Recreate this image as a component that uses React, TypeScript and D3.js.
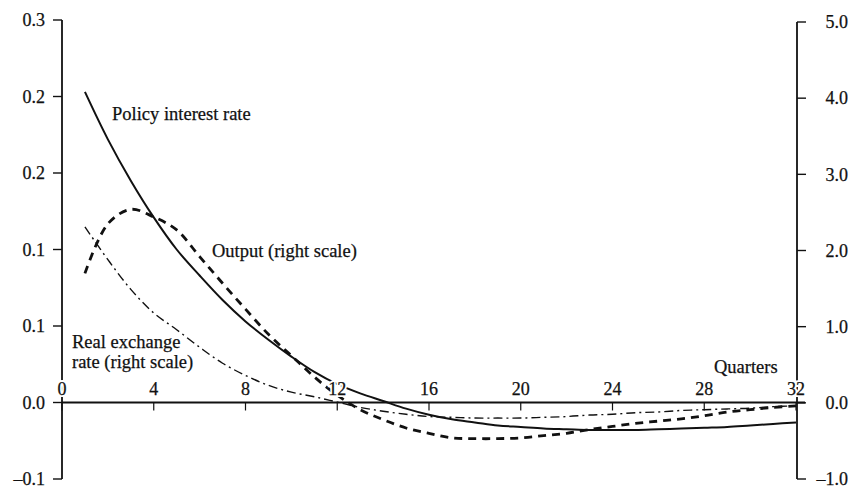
import React from "react";
import * as d3 from "d3";

const quarters = [1,2,3,4,5,6,7,8,9,10,11,12,13,14,15,16,17,18,19,20,21,22,23,24,25,26,27,28,29,30,31,32];

// Policy interest rate (left scale)
const policyRate = [0.203,0.172,0.145,0.121,0.100,0.083,0.067,0.053,0.041,0.030,0.020,0.012,0.006,0.001,-0.004,-0.008,-0.011,-0.013,-0.015,-0.016,-0.017,-0.0175,-0.018,-0.018,-0.018,-0.0175,-0.017,-0.0165,-0.016,-0.015,-0.014,-0.013];

// Output (right scale)
const output = [1.70,2.35,2.54,2.44,2.27,1.92,1.57,1.23,0.90,0.62,0.34,0.10,-0.09,-0.22,-0.33,-0.40,-0.46,-0.47,-0.47,-0.46,-0.43,-0.40,-0.35,-0.31,-0.27,-0.24,-0.21,-0.17,-0.12,-0.09,-0.06,-0.04];

// Real exchange rate (right scale)
const realExchangeRate = [2.31,1.88,1.49,1.18,0.96,0.73,0.52,0.36,0.23,0.14,0.08,0.01,-0.06,-0.11,-0.15,-0.18,-0.19,-0.20,-0.20,-0.20,-0.19,-0.18,-0.16,-0.15,-0.13,-0.12,-0.10,-0.09,-0.08,-0.07,-0.05,-0.04];

const leftTickValues = [0.25,0.2,0.15,0.1,0.05,0,-0.05];
const leftTickLabels = ["0.3","0.2","0.2","0.1","0.1","0.0","\u20130.1"];
const rightTickValues = [5,4,3,2,1,0,-1];
const rightTickLabels = ["5.0","4.0","3.0","2.0","1.0","0.0","\u20131.0"];
const xTickValues = [0,4,8,12,16,20,24,28,32];

const W = 852, H = 489;
const FONT = "'Liberation Serif', 'Times New Roman', serif";
const INK = "#111";

export default function App() {
  const x = d3.scaleLinear().domain([0, 32]).range([62, 796]);
  const yL = d3.scaleLinear().domain([-0.05, 0.25]).range([479, 20]);
  const yR = d3.scaleLinear().domain([-1, 5]).range([479, 22]);

  const curve = d3.curveCatmullRom.alpha(0.5);
  const lineL = d3.line<number>().x((_, i) => x(quarters[i])).y(d => yL(d)).curve(curve);
  const lineR = d3.line<number>().x((_, i) => x(quarters[i])).y(d => yR(d)).curve(curve);

  const zeroY = yL(0);
  const leftX = x(0);
  const rightX = x(32) + 1;
  const textStyle = { stroke: INK, strokeWidth: 0.25 } as const;

  return (
    <svg width={W} height={H} style={{ position: "absolute", left: 0, top: 0, background: "#fff" }}>
      <rect x={0} y={0} width={W} height={H} fill="#fff" />
      {/* left axis */}
      <line x1={leftX} x2={leftX} y1={yL(0.25)} y2={yL(-0.05)} stroke={INK} strokeWidth={1.8} />
      {leftTickValues.map((v, i) => (
        <g key={"l" + i}>
          <line x1={leftX - 9} x2={leftX} y1={yL(v)} y2={yL(v)} stroke={INK} strokeWidth={1.4} />
          <text x={45} y={yL(v)} dy="0.35em" textAnchor="end" fontFamily={FONT} fontSize={18} fill={INK} {...textStyle}>
            {leftTickLabels[i]}
          </text>
        </g>
      ))}
      {/* right axis */}
      <line x1={rightX} x2={rightX} y1={yR(5)} y2={yR(-1)} stroke={INK} strokeWidth={1.8} />
      {rightTickValues.map((v, i) => (
        <g key={"r" + i}>
          <line x1={rightX} x2={rightX + 9} y1={yR(v)} y2={yR(v)} stroke={INK} strokeWidth={1.4} />
          <text x={848} y={yR(v)} dy="0.35em" textAnchor="end" fontFamily={FONT} fontSize={18} fill={INK} {...textStyle}>
            {rightTickLabels[i]}
          </text>
        </g>
      ))}
      {/* x axis */}
      <line x1={leftX} x2={rightX + 8} y1={zeroY} y2={zeroY} stroke={INK} strokeWidth={1.8} />
      {xTickValues.map((v, i) => (
        <line key={"xt" + i} x1={x(v)} x2={x(v)} y1={zeroY} y2={zeroY + 8} stroke={INK} strokeWidth={1.2} />
      ))}

      {/* series */}
      <path d={lineR(realExchangeRate) || ""} fill="none" stroke={INK} strokeWidth={1.4} strokeDasharray="9,4,2,4" />
      <path d={lineR(output) || ""} fill="none" stroke={INK} strokeWidth={2.8} strokeDasharray="8,6" />
      <path d={lineL(policyRate) || ""} fill="none" stroke={INK} strokeWidth={2} />

      {/* x tick labels with halo */}
      {xTickValues.map((v, i) => (
        <g key={"xl" + i}>
          <text x={x(v)} y={395} textAnchor="middle" fontFamily={FONT} fontSize={18} fill="#fff"
            stroke="#fff" strokeWidth={4}>
            {String(v)}
          </text>
          <text x={x(v)} y={395} textAnchor="middle" fontFamily={FONT} fontSize={18} fill={INK} {...textStyle}>
            {String(v)}
          </text>
        </g>
      ))}

      {/* labels */}
      <text x={112} y={120} fontFamily={FONT} fontSize={18.5} fill={INK} {...textStyle}>Policy interest rate</text>
      <text x={212} y={257} fontFamily={FONT} fontSize={18.5} fill={INK} {...textStyle}>Output (right scale)</text>
      <text x={72} y={348} fontFamily={FONT} fontSize={18.5} fill={INK} {...textStyle}>Real exchange</text>
      <text x={72} y={368} fontFamily={FONT} fontSize={18.5} fill={INK} {...textStyle}>rate (right scale)</text>
      <text x={714} y={373} fontFamily={FONT} fontSize={18.5} fill={INK} {...textStyle}>Quarters</text>
    </svg>
  );
}
